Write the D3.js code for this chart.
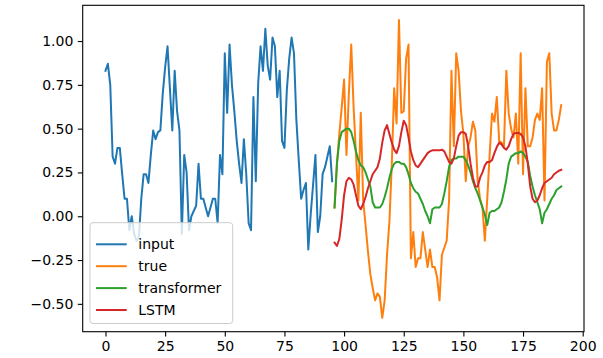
<!DOCTYPE html>
<html>
<head>
<meta charset="utf-8">
<script src="https://cdn.jsdelivr.net/npm/d3@7"></script>
<style>
  html, body { margin: 0; padding: 0; background: #fff; }
  svg { display: block; font-family: "DejaVu Sans", sans-serif; }
</style>
</head>
<body>
<script>
// input window: steps 0..95
const inputValues = [
  0.83, 0.87, 0.75, 0.34, 0.30, 0.39, 0.39, 0.24, 0.10, 0.10,
  -0.08, 0.00, -0.10, -0.14, -0.12, 0.10, 0.24, 0.24, 0.19, 0.35,
  0.49, 0.44, 0.48, 0.49, 0.70, 0.85, 0.97, 0.73, 0.49, 0.83,
  0.60, 0.49, -0.10, 0.35, 0.25, -0.08, 0.00, 0.03, 0.06, 0.30,
  0.10, 0.10, 0.05, 0.00, 0.05, 0.10, 0.10, -0.04, 0.35, 0.24,
  0.93, 0.59, 0.98, 0.75, 0.60, 0.43, 0.30, 0.19, 0.44, 0.24,
  -0.04, -0.08, 0.68, 0.20, 0.76, 0.97, 0.83, 1.07, 0.86, 0.78,
  1.02, 0.97, 0.68, 0.83, 0.43, 0.39, 0.72, 0.90, 1.02, 0.93,
  0.55, 0.32, 0.10, 0.15, 0.19, -0.19, 0.01, 0.18, 0.35, -0.09,
  0.00, 0.24, 0.28, 0.34, 0.40, 0.20
];

// forecast horizon: steps 96..191
const trueValues = [
  0.05, 0.30, 0.47, 0.62, 0.78, 0.35, 0.70, 0.98, 0.62, 0.35,
  0.09, 0.59, 0.09, -0.05, -0.20, -0.33, -0.41, -0.48, -0.44, -0.46,
  -0.58, -0.48, -0.22, -0.03, 0.30, 0.73, 0.53, 1.12, 0.59, 0.60,
  0.90, 0.98, -0.24, -0.09, -0.29, -0.24, -0.24, -0.09, -0.19, -0.29,
  -0.19, -0.29, -0.29, -0.35, -0.48, -0.22, -0.18, -0.14, 0.09, 0.83,
  0.40, 0.93, 0.83, 0.60, 0.47, 0.20, 0.40, 0.45, 0.54, 0.49,
  0.20, 0.10, 0.05, -0.14, 0.10, 0.35, 0.586, 0.54, 0.68, 0.43,
  0.42, 0.40, 0.83, 0.586, 0.50, 0.45, 0.586, 0.30, 0.93, 0.24,
  0.73, 0.40, 0.40, 0.45, 0.55, 0.586, 0.55, 0.73, 0.09, 0.88,
  0.93, 0.586, 0.49, 0.49, 0.55, 0.634
];

const transformerValues = [
  0.05, 0.30, 0.43, 0.48, 0.49, 0.50, 0.50, 0.48, 0.43, 0.37,
  0.32, 0.29, 0.28, 0.25, 0.21, 0.17, 0.08, 0.05, 0.05, 0.05,
  0.07, 0.11, 0.16, 0.22, 0.27, 0.30, 0.31, 0.31, 0.30, 0.30,
  0.28, 0.24, 0.19, 0.16, 0.14, 0.13, 0.10, 0.07, 0.03, 0.00,
  -0.04, 0.04, 0.05, 0.05, 0.05, 0.07, 0.13, 0.20, 0.28, 0.32,
  0.33, 0.33, 0.34, 0.34, 0.34, 0.32, 0.29, 0.25, 0.20, 0.16,
  0.13, 0.09, 0.05, 0.01, -0.05, 0.02, 0.03, 0.03, 0.04, 0.05,
  0.08, 0.14, 0.21, 0.30, 0.34, 0.35, 0.36, 0.36, 0.37, 0.36,
  0.34, 0.31, 0.23, 0.17, 0.12, 0.08, 0.04, -0.04, 0.02, 0.04,
  0.07, 0.10, 0.12, 0.15, 0.16, 0.17
];

const lstmValues = [
  -0.15, -0.17, -0.13, -0.02, 0.12, 0.20, 0.22, 0.21, 0.18, 0.12,
  0.06, 0.04, 0.07, 0.11, 0.16, 0.20, 0.24, 0.26, 0.28, 0.33,
  0.42, 0.49, 0.52, 0.47, 0.42, 0.38, 0.36, 0.40, 0.48, 0.545,
  0.52, 0.45, 0.37, 0.32, 0.29, 0.28, 0.30, 0.32, 0.34, 0.36,
  0.37, 0.376, 0.376, 0.376, 0.376, 0.38, 0.37, 0.34, 0.31, 0.30,
  0.33, 0.40, 0.46, 0.48, 0.48, 0.47, 0.40, 0.30, 0.22, 0.17,
  0.17, 0.22, 0.25, 0.29, 0.31, 0.31, 0.32, 0.36, 0.395, 0.42,
  0.41, 0.39, 0.38, 0.40, 0.44, 0.47, 0.475, 0.475, 0.47, 0.45,
  0.40, 0.30, 0.17, 0.10, 0.08, 0.09, 0.12, 0.16, 0.19, 0.20,
  0.21, 0.22, 0.24, 0.25, 0.26, 0.265
];

const xTicks = [0, 25, 50, 75, 100, 125, 150, 175, 200];
const yTicks = [-0.50, -0.25, 0.00, 0.25, 0.50, 0.75, 1.00];

const series = [
  { name: "input", start: 0, values: inputValues, color: "#1f77b4" },
  { name: "true", start: inputValues.length, values: trueValues, color: "#ff7f0e" },
  { name: "transformer", start: inputValues.length, values: transformerValues, color: "#2ca02c" },
  { name: "LSTM", start: inputValues.length, values: lstmValues, color: "#d62728" }
];

const width = 603;
const height = 358;

const marginLeft = 82.7;
const marginRight = 19;
const marginTop = 5.3;
const marginBottom = 26.3;

const svg = d3.select("body")
  .append("svg")
  .attr("width", width)
  .attr("height", height);

svg.append("rect")
  .attr("width", "100%")
  .attr("height", "100%")
  .attr("fill", "white");

const x = d3.scaleLinear()
  .domain([-9.55, 200.55])
  .range([marginLeft, width - marginRight]);

const y = d3.scaleLinear()
  .domain([-0.659, 1.204])
  .range([height - marginBottom, marginTop]);

// lines
const line = d3.line()
  .x(d => x(d.t))
  .y(d => y(d.v));

series.forEach(s => {
  const pts = s.values.map((v, i) => ({ t: s.start + i, v: v }));
  svg.append("path")
    .datum(pts)
    .attr("fill", "none")
    .attr("stroke", s.color)
    .attr("stroke-width", 2)
    .attr("stroke-linejoin", "round")
    .attr("stroke-linecap", "square")
    .attr("d", line);
});

// axes
const xAxis = d3.axisBottom(x)
  .tickValues(xTicks)
  .tickSize(4.9)
  .tickPadding(4)
  .tickFormat(d3.format("d"));

const gx = svg.append("g")
  .attr("transform", "translate(0," + (height - marginBottom) + ")")
  .call(xAxis);

const yAxis = d3.axisLeft(y)
  .tickValues(yTicks)
  .tickSize(4.9)
  .tickPadding(4.5)
  .tickFormat(d => d3.format(".2f")(d).replace("-", "\u2212"));

const gy = svg.append("g")
  .attr("transform", "translate(" + marginLeft + ",0)")
  .call(yAxis);

[gx, gy].forEach(g => {
  g.select(".domain").remove();
  g.selectAll(".tick line").attr("stroke", "#000").attr("stroke-width", 1.1);
  g.selectAll(".tick text")
    .attr("fill", "#000")
    .style("font-family", "'DejaVu Sans', sans-serif")
    .style("font-size", "14px");
});

// frame
svg.append("rect")
  .attr("x", marginLeft)
  .attr("y", marginTop)
  .attr("width", width - marginRight - marginLeft)
  .attr("height", height - marginBottom - marginTop)
  .attr("fill", "none")
  .attr("stroke", "#000")
  .attr("stroke-width", 1.1);

// legend
const legendX = 90;
const legendY = 222.7;
const legendW = 142.7;
const legendH = 100.8;
const rowH = 21.9;

const legend = svg.append("g");

legend.append("rect")
  .attr("x", legendX)
  .attr("y", legendY)
  .attr("width", legendW)
  .attr("height", legendH)
  .attr("rx", 3)
  .attr("fill", "white")
  .attr("fill-opacity", 0.8)
  .attr("stroke", "#cccccc")
  .attr("stroke-width", 1);

series.forEach((s, i) => {
  const cy = legendY + 21.6 + i * rowH;
  legend.append("line")
    .attr("x1", legendX + 6)
    .attr("x2", legendX + 36.7)
    .attr("y1", cy)
    .attr("y2", cy)
    .attr("stroke", s.color)
    .attr("stroke-width", 2);
  legend.append("text")
    .attr("x", legendX + 48.3)
    .attr("y", cy)
    .attr("dy", "0.35em")
    .attr("fill", "#000")
    .style("font-size", "14px")
    .text(s.name);
});
</script>
</body>
</html>
